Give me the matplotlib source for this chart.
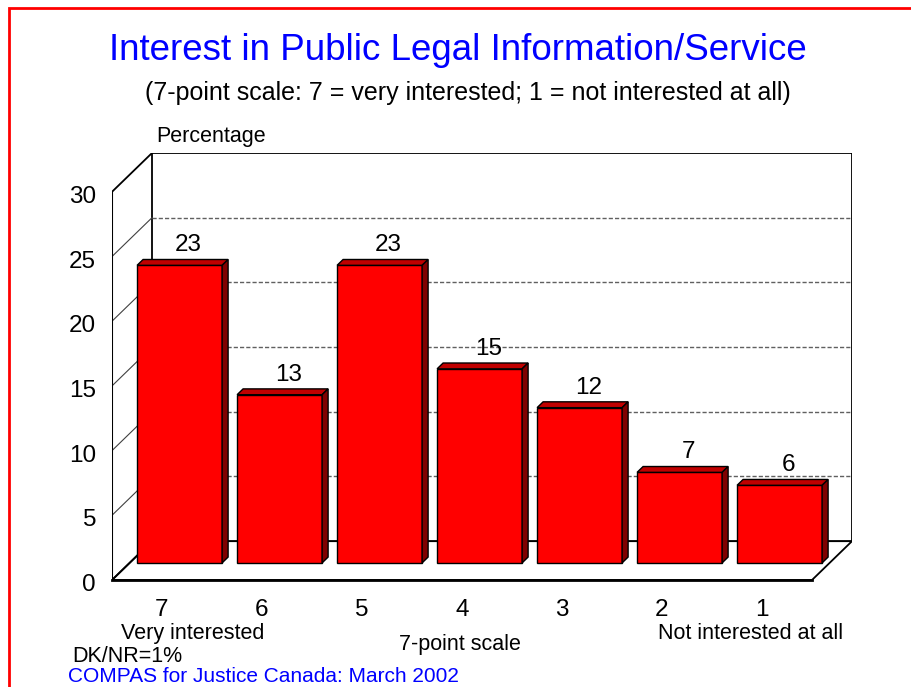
import matplotlib
matplotlib.use("Agg")
import matplotlib.pyplot as plt
from matplotlib.patches import Polygon, Rectangle

plt.rcParams['font.family'] = ['Liberation Sans', 'DejaVu Sans']

# survey results
categories = ["7", "6", "5", "4", "3", "2", "1"]
values = [23, 13, 23, 15, 12, 7, 6]
yticks = [0, 5, 10, 15, 20, 25, 30]

# 3d box geometry (data units)
DX, DY = 0.4, 3.0      # full depth of the box
F = 0.44               # where the bars sit inside the box
T = 0.15               # bar thickness as part of depth
W = 0.85               # bar width
YMAX = 30

fig = plt.figure(figsize=(9.12, 6.87), dpi=100)
ax = fig.add_axes([112/912, (687-580)/687, (852-112)/912, (580-153)/687])
ax.set_xlim(-0.5, 6.5 + DX)
ax.set_ylim(0, YMAX + DY)
ax.axis('off')

x0, x1 = -0.5, len(categories) - 0.5
# floor
ax.add_patch(Polygon([(x0, 0), (x1, 0), (x1 + DX, DY), (x0 + DX, DY)],
                     closed=True, facecolor='white', edgecolor='black', lw=1.3, zorder=1))
ax.plot([x0, x1], [0, 0], color='black', lw=2, zorder=2, clip_on=False)
# back wall
ax.add_patch(Rectangle((x0 + DX, DY), x1 - x0, YMAX, facecolor='white',
                       edgecolor='black', lw=1.3, zorder=1))
# left wall
ax.plot([x0, x0], [0, YMAX], color='black', lw=1.5, zorder=2)
ax.plot([x0, x0 + DX], [YMAX, YMAX + DY], color='black', lw=1.3, zorder=2)
ax.plot([x0, x0 + DX], [0, DY], color='black', lw=1.3, zorder=2)

# gridlines on walls
for v in yticks[1:-1]:
    ax.plot([x0 + DX, x1 + DX], [v + DY, v + DY], color='#606060', lw=1,
            linestyle=(0, (3, 1.5)), zorder=1.5)
    ax.plot([x0, x0 + DX], [v, v + DY], color='#404040', lw=0.8, zorder=1.5)

for v in yticks:
    ax.text(x0 - 0.16, v - 0.4, str(v), ha='right', va='center', fontsize=17.5)

# bars
bx = [i + F * DX for i in range(len(values))]
by = F * DY
ax.bar(bx, values, width=W, bottom=by, color='#ff0000', edgecolor='black', lw=1, zorder=3)
tx, ty = T * DX, T * DY
for xc, v in zip(bx, values):
    l, r = xc - W / 2, xc + W / 2
    top = by + v
    ax.add_patch(Polygon([(l, top), (r, top), (r + tx, top + ty), (l + tx, top + ty)],
                         closed=True, facecolor='#c00000', edgecolor='black', lw=1, zorder=3))
    ax.add_patch(Polygon([(r, by), (r + tx, by + ty), (r + tx, top + ty), (r, top)],
                         closed=True, facecolor='#800000', edgecolor='black', lw=1, zorder=3))
    ax.text(xc + tx + 0.03, top + ty + 0.25, str(v), ha='center', va='bottom', fontsize=17.5)

for i, c in enumerate(categories):
    ax.text(i, -2.3, c, ha='center', va='center', fontsize=17.5, clip_on=False)
ax.text(0.31, -4.1, "Very interested", ha='center', va='center', fontsize=15.5)
ax.text(2.98, -4.95, "7-point scale", ha='center', va='center', fontsize=15.5)
ax.text(5.89, -4.1, "Not interested at all", ha='center', va='center', fontsize=15.5)
ax.text(-0.06, 34.3, "Percentage", ha='left', va='center', fontsize=15.5)

fig.text(0.502, 0.927, "Interest in Public Legal Information/Service",
         ha='center', va='center', fontsize=26.5, color='#0000ff')
fig.text(0.513, 0.865, "(7-point scale: 7 = very interested; 1 = not interested at all)",
         ha='center', va='center', fontsize=18)
fig.text(0.079, 0.045, "DK/NR=1%", ha='left', va='center', fontsize=15.5)
fig.text(0.0746, 0.001, "COMPAS for Justice Canada: March 2002", ha='left', va='bottom',
         fontsize=15, color='#0000ff')

# page border
fig.patches.append(Rectangle((9/912, -0.1), 1.0, 1 - 7.5/687 + 0.1, transform=fig.transFigure,
                             fill=False, edgecolor='#ff0000', lw=2))

fig.savefig("out.png", dpi=100)
